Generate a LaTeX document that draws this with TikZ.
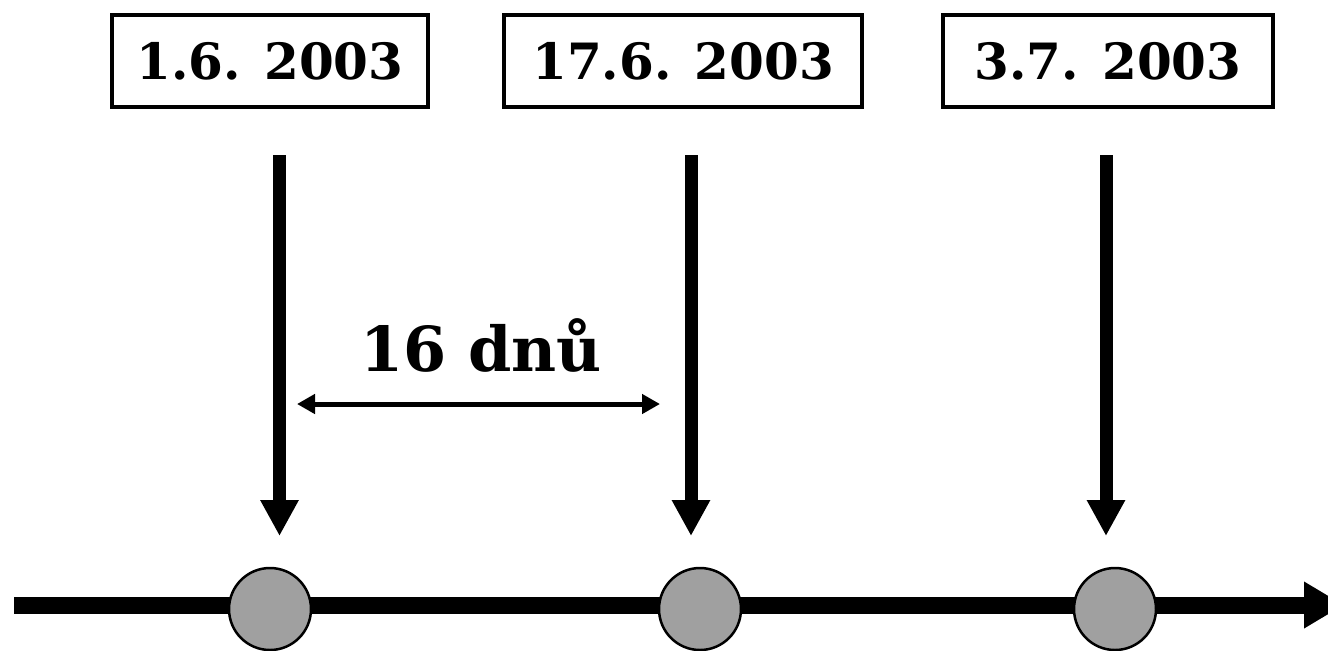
\documentclass[tikz,border=0pt]{standalone}
\usepackage{fontspec}
\setmainfont{DejaVu Serif}
\usetikzlibrary{arrows.meta}
\definecolor{dotgray}{RGB}{160,160,160}
\begin{document}
\begin{tikzpicture}[x=0.5pt,y=-0.5pt,
  datebox/.style={draw,line width=2pt,minimum height=46pt,inner sep=0pt,
    font=\bfseries\fontsize{25}{25}\selectfont},
  dot/.style={circle,draw,line width=1.25pt,fill=dotgray,minimum size=41pt,inner sep=0pt},
  pointer/.style={line width=6.5pt,-{Triangle[length=18pt,width=18pt]}},
  span/.style={line width=2.5pt,{Triangle[length=9pt,width=9.5pt]}-{Triangle[length=9pt,width=9.5pt]}},
  axis/.style={line width=8.5pt,-{Triangle[length=20pt,width=22pt]}}]
\useasboundingbox (0,0) rectangle (1328,650);
\clip (0,0) rectangle (1328,650);

% date labels
\node[datebox,minimum width=158pt] (d1) at (270,61) {1.6. 2003};
\node[datebox,minimum width=179pt] (d2) at (683,61) {17.6. 2003};
\node[datebox,minimum width=165pt] (d3) at (1108,61) {3.7. 2003};

% time axis
\coordinate (ax0) at (14,605);
\coordinate (ax1) at (1344,605);
\draw[axis] (ax0) -- (ax1);

% event dots on the axis
\node[dot] (e1) at (270,609) {};
\node[dot] (e2) at (700,609) {};
\node[dot] (e3) at (1115,609) {};

% pointers from the dates down to the axis
\coordinate (p1s) at (279.5,155); \coordinate (p1e) at (279.5,536);
\coordinate (p2s) at (691,155);   \coordinate (p2e) at (691,536);
\coordinate (p3s) at (1106,155);  \coordinate (p3e) at (1106,536);
\draw[pointer] (p1s) -- (p1e);
\draw[pointer] (p2s) -- (p2e);
\draw[pointer] (p3s) -- (p3e);

% interval between the first two dates
\coordinate (s1) at (297,404);
\coordinate (s2) at (660,404);
\draw[span] (s1) -- (s2);
\node[anchor=base,font=\bfseries\fontsize{31}{31}\selectfont] (gap) at (481,371) {16 dnů};
\end{tikzpicture}
\end{document}
